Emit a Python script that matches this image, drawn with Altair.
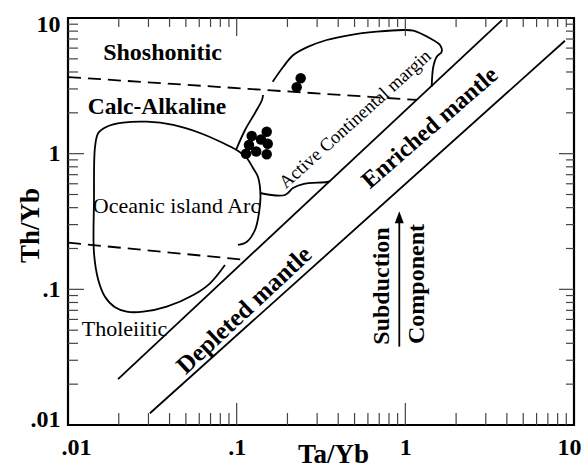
import altair as alt
import pandas as pd

FONT = "Liberation Serif"
W, H = 506, 407

# ---------------- data (Ta/Yb, Th/Yb) ----------------
x_tick_values = [0.01, 0.1, 1, 10]
x_tick_labels = [".01", ".1", "1", "10"]
y_tick_values = [0.01, 0.1, 1, 10]
y_tick_labels = [".01", ".1", "1", "10"]
major_ticks = [0.1, 1]
minor_ticks = [0.02, 0.03, 0.04, 0.05, 0.06, 0.07, 0.08, 0.09,
               0.2, 0.3, 0.4, 0.5, 0.6, 0.7, 0.8, 0.9,
               2, 3, 4, 5, 6, 7, 8, 9]

# Oceanic island arc field (open curve)
arc_x = [0.1018, 0.1151, 0.1284, 0.1356, 0.1384, 0.1338, 0.1250, 0.1147, 0.1000,
         0.0830, 0.0606, 0.0421, 0.0293, 0.0212, 0.01696, 0.01512, 0.01446, 0.01426,
         0.01426, 0.01512, 0.01657, 0.0190, 0.02228, 0.02795, 0.03847, 0.05533,
         0.06948, 0.0852]
arc_y = [0.2123, 0.2245, 0.2737, 0.3653, 0.4957, 0.673, 0.7842, 0.929, 1.064,
         1.198, 1.420, 1.627, 1.720, 1.691, 1.580, 1.420, 1.120, 0.4556,
         0.1853, 0.1172, 0.0882, 0.0737, 0.0684, 0.0684, 0.0745, 0.0908,
         0.1108, 0.1511]
# Active continental margin field
acm_left_x = [0.0991, 0.1121, 0.1284, 0.1413, 0.1433]
acm_left_y = [1.064, 1.495, 1.994, 2.487, 2.707]
acm_upper_x = [0.1635, 0.1890, 0.2167, 0.2659, 0.3418, 0.4697, 0.6764, 0.9725,
               1.115, 1.400, 1.605, 1.643, 1.535, 1.465, 1.433]
acm_upper_y = [3.393, 4.375, 5.337, 6.145, 6.883, 7.492, 7.925, 8.155,
               8.060, 7.085, 6.324, 5.644, 5.185, 4.375, 3.116]
acm_base_x = [0.1375, 0.1934, 0.2158, 0.2473, 0.3433, 0.3577]
acm_base_y = [0.5129, 0.4957, 0.5582, 0.5975, 0.6183, 0.6288]
# Mantle array
mantle_inner_x = [0.0198, 3.74]
mantle_inner_y = [0.0218, 9.66]
mantle_outer_x = [0.0306, 8.84]
mantle_outer_y = [0.0122, 6.80]
# Series boundaries (dashed)
dash_upper_x = [0.01, 1.17]
dash_upper_y = [3.67, 2.49]
dash_lower_x = [0.01, 0.112]
dash_lower_y = [0.221, 0.165]
# Samples
sample_x = [0.2396, 0.2269, 0.1228, 0.1507, 0.1394, 0.1528, 0.1183, 0.1136, 0.1305, 0.1507]
sample_y = [3.594, 3.085, 1.350, 1.452, 1.272, 1.184, 1.158, 0.9995, 1.038, 0.991]
# Subduction component arrow
arrow_x = [0.921]
arrow_y = [0.0378, 0.325]
arrow_head_y = [0.34]

# Text labels
label_text = ["Shoshonitic", "Calc-Alkaline", "Oceanic island Arc", "Tholeiitic",
              "Active Continental margin", "Enriched mantle", "Depleted mantle",
              "Subduction", "Component"]
label_x = [0.03633, 0.03371, 0.04398, 0.02163, 0.503, 1.400, 0.1105, 0.7245, 1.177]
label_y = [5.540, 2.208, 0.4080, 0.05143, 1.801, 1.546, 0.0704, 0.1058, 0.1095]

# ---------------- chart ----------------
xs = alt.Scale(type="log", domain=[0.01, 10], nice=False)
ys = alt.Scale(type="log", domain=[0.01, 10], nice=False)


def label_expr(values, labels):
    parts = [f"abs(datum.value - {v}) < {v * 0.01} ? '{l}'" for v, l in zip(values, labels)]
    return " : ".join(parts) + " : ''"


x_axis = alt.Axis(values=x_tick_values, labelExpr=label_expr(x_tick_values, x_tick_labels),
                  ticks=False, domain=False, grid=False,
                  labelFont=FONT, labelFontSize=24, labelFontWeight="bold", labelColor="black",
                  labelPadding=10, labelFlush=True, labelFlushOffset=7,
                  title="Ta/Yb", titleFont=FONT, titleFontSize=27, titleFontWeight="bold",
                  titleColor="black", titleX=265, titleY=37, titleBaseline="alphabetic")
y_axis = alt.Axis(values=y_tick_values, labelExpr=label_expr(y_tick_values, y_tick_labels),
                  ticks=False, domain=False, grid=False,
                  labelFont=FONT, labelFontSize=24, labelFontWeight="bold", labelColor="black",
                  labelPadding=8, labelFlush=True, labelFlushOffset=6,
                  title="Th/Yb", titleFont=FONT, titleFontSize=27, titleFontWeight="bold",
                  titleColor="black", titleAngle=270, titleX=-30, titleY=207,
                  titleBaseline="alphabetic", titleAlign="center")

X = lambda f: alt.X(f, scale=xs, axis=x_axis)
Y = lambda f: alt.Y(f, scale=ys, axis=y_axis)


def path_df(name, xs_, ys_):
    return pd.DataFrame({"x": xs_, "y": ys_, "i": list(range(len(xs_))), "p": name})


curves = pd.concat([
    path_df("arc", arc_x, arc_y),
    path_df("acm_left", acm_left_x, acm_left_y),
    path_df("acm_upper", acm_upper_x, acm_upper_y),
    path_df("acm_base", acm_base_x, acm_base_y),
])
straight = pd.concat([
    path_df("inner", mantle_inner_x, mantle_inner_y),
    path_df("outer", mantle_outer_x, mantle_outer_y),
])
dashed = pd.concat([
    path_df("upper", dash_upper_x, dash_upper_y),
    path_df("lower", dash_lower_x, dash_lower_y),
])

base_curves = alt.Chart(curves).mark_line(color="black", strokeWidth=1.8,
                                          interpolate="catmull-rom").encode(
    x=X("x:Q"), y=Y("y:Q"), detail="p:N", order="i:Q")

straight_lines = alt.Chart(straight).mark_line(color="black", strokeWidth=1.8).encode(
    x=X("x:Q"), y=Y("y:Q"), detail="p:N", order="i:Q")

dashed_lines = alt.Chart(dashed).mark_line(color="black", strokeWidth=1.8,
                                           strokeDash=[13, 7]).encode(
    x=X("x:Q"), y=Y("y:Q"), detail="p:N", order="i:Q")

points = alt.Chart(pd.DataFrame({"x": sample_x, "y": sample_y})).mark_circle(
    color="black", opacity=1, size=110).encode(x=X("x:Q"), y=Y("y:Q"))

arrow_shaft = alt.Chart(pd.DataFrame({"x": arrow_x, "y": [arrow_y[0]], "y2": [arrow_y[1]]})).mark_rule(
    color="black", strokeWidth=1.8).encode(x=X("x:Q"), y=Y("y:Q"), y2="y2:Q")
arrow_head = alt.Chart(pd.DataFrame({"x": arrow_x, "y": arrow_head_y})).mark_point(
    shape="M0,-1L0.75,1L-0.75,1Z", filled=True, color="black", opacity=1, size=144).encode(
    x=X("x:Q"), y=Y("y:Q"))

# style of each label: (font size, weight, angle)
label_style = [(24, "bold", 0), (23.5, "bold", 0), (22, "normal", 0), (22, "normal", 0),
               (18.5, "normal", 318), (24, "bold", 319), (25, "bold", 317),
               (24, "bold", 270), (24, "bold", 270)]

text_layers = []
for t, lx, ly, (fs, fw, ang) in zip(label_text, label_x, label_y, label_style):
    text_layers.append(
        alt.Chart(pd.DataFrame({"x": [lx], "y": [ly], "t": [t]})).mark_text(
            font=FONT, fontSize=fs, fontWeight=fw, angle=ang, align="center",
            baseline="middle", color="black").encode(
            x=X("x:Q"), y=Y("y:Q"), text="t:N"))


def xticks(vals, y0, y1):
    return alt.Chart(pd.DataFrame({"x": vals})).mark_rule(color="#444", strokeWidth=1.2).encode(
        x=X("x:Q"), y=alt.value(y0), y2=alt.value(y1))


def yticks(vals, x0, x1):
    return alt.Chart(pd.DataFrame({"y": vals})).mark_rule(color="#444", strokeWidth=1.2).encode(
        y=Y("y:Q"), x=alt.value(x0), x2=alt.value(x1))


tick_layers = [
    xticks(minor_ticks, H, H - 12), xticks(major_ticks, H, H - 22),
    xticks(minor_ticks, 0, 9), xticks(major_ticks, 0, 18),
    yticks(minor_ticks, 0, 10), yticks(major_ticks, 0, 16),
    yticks(minor_ticks, W, W - 8), yticks(major_ticks, W, W - 15),
]

chart = alt.layer(base_curves, straight_lines, dashed_lines, points, arrow_shaft, arrow_head,
                  *tick_layers, *text_layers).properties(
    width=W, height=H,
    autosize=alt.AutoSizeParams(type="none"),
    padding={"left": 68, "top": 18, "right": 7, "bottom": 42},
    background="white",
).configure_view(stroke="black", strokeWidth=2.2)

chart.save("out.html", embed_options={"renderer": "svg", "actions": False})
